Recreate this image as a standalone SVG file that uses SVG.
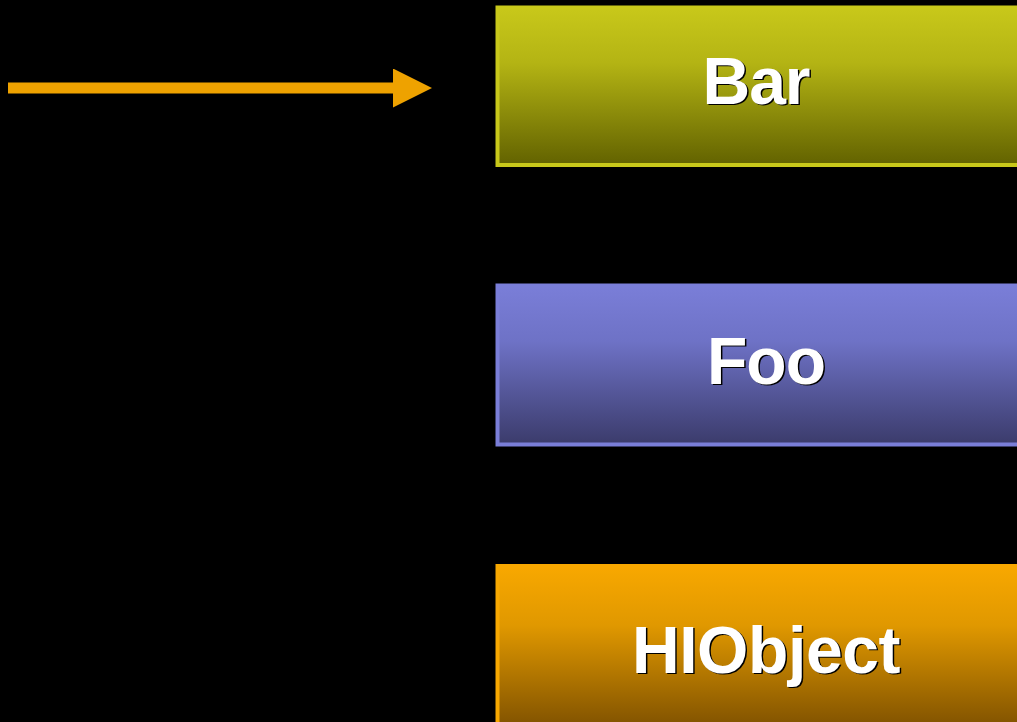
<svg xmlns="http://www.w3.org/2000/svg" width="1017" height="722" viewBox="0 0 1017 722">
  <defs>
    <linearGradient id="gBar" x1="0" y1="0" x2="0" y2="1">
      <stop offset="0" stop-color="#c8c81a"/>
      <stop offset="0.35" stop-color="#b4b414"/>
      <stop offset="1" stop-color="#626200"/>
    </linearGradient>
    <linearGradient id="gFoo" x1="0" y1="0" x2="0" y2="1">
      <stop offset="0" stop-color="#7a7ed8"/>
      <stop offset="0.35" stop-color="#6e72c6"/>
      <stop offset="1" stop-color="#3b3b6b"/>
    </linearGradient>
    <linearGradient id="gHI" x1="0" y1="0" x2="0" y2="1">
      <stop offset="0" stop-color="#f8a800"/>
      <stop offset="0.35" stop-color="#e09800"/>
      <stop offset="1" stop-color="#784c00"/>
    </linearGradient>
    <marker id="head" markerUnits="userSpaceOnUse" viewBox="0 0 39 39" markerWidth="39" markerHeight="39" refX="0" refY="19.5" orient="auto">
      <path d="M0,0 L39,19.5 L0,39 Z" fill="#eea200"/>
    </marker>
  </defs>
  <style>
    .box { stroke-width: 4; }
    .label { font-family: "Liberation Sans", Arial, Helvetica, sans-serif; font-weight: bold; font-size: 66px; letter-spacing: -1px; text-anchor: middle; }
    .wide { letter-spacing: -0.4px; }
    .shadow { fill: #000; }
    .txt { fill: #fff; }
    .conn { stroke: #eea200; stroke-width: 11; fill: none; stroke-linecap: butt; }
  </style>
  <rect x="0" y="0" width="1017" height="722" fill="#000"/>

  <g id="connectors">
    <path class="conn" d="M8,88 L393,88" marker-end="url(#head)"/>
  </g>

  <g id="node-bar">
    <rect class="box" x="497.5" y="7.5" width="560" height="157.5" fill="url(#gBar)" stroke="#c8c81a"/>
    <text class="label shadow" x="757.5" y="105">Bar</text>
    <text class="label txt" x="756" y="103.5">Bar</text>
  </g>

  <g id="node-foo">
    <rect class="box" x="497.5" y="285.5" width="560" height="159" fill="url(#gFoo)" stroke="#7a7ed8"/>
    <text class="label shadow" x="767.5" y="385">Foo</text>
    <text class="label txt" x="766" y="383.5">Foo</text>
  </g>

  <g id="node-hiobject">
    <rect class="box" x="497.5" y="566" width="560" height="170" fill="url(#gHI)" stroke="#f8a800"/>
    <text class="label wide shadow" x="767.5" y="674">HIObject</text>
    <text class="label wide txt" x="766" y="672.5">HIObject</text>
  </g>
</svg>
